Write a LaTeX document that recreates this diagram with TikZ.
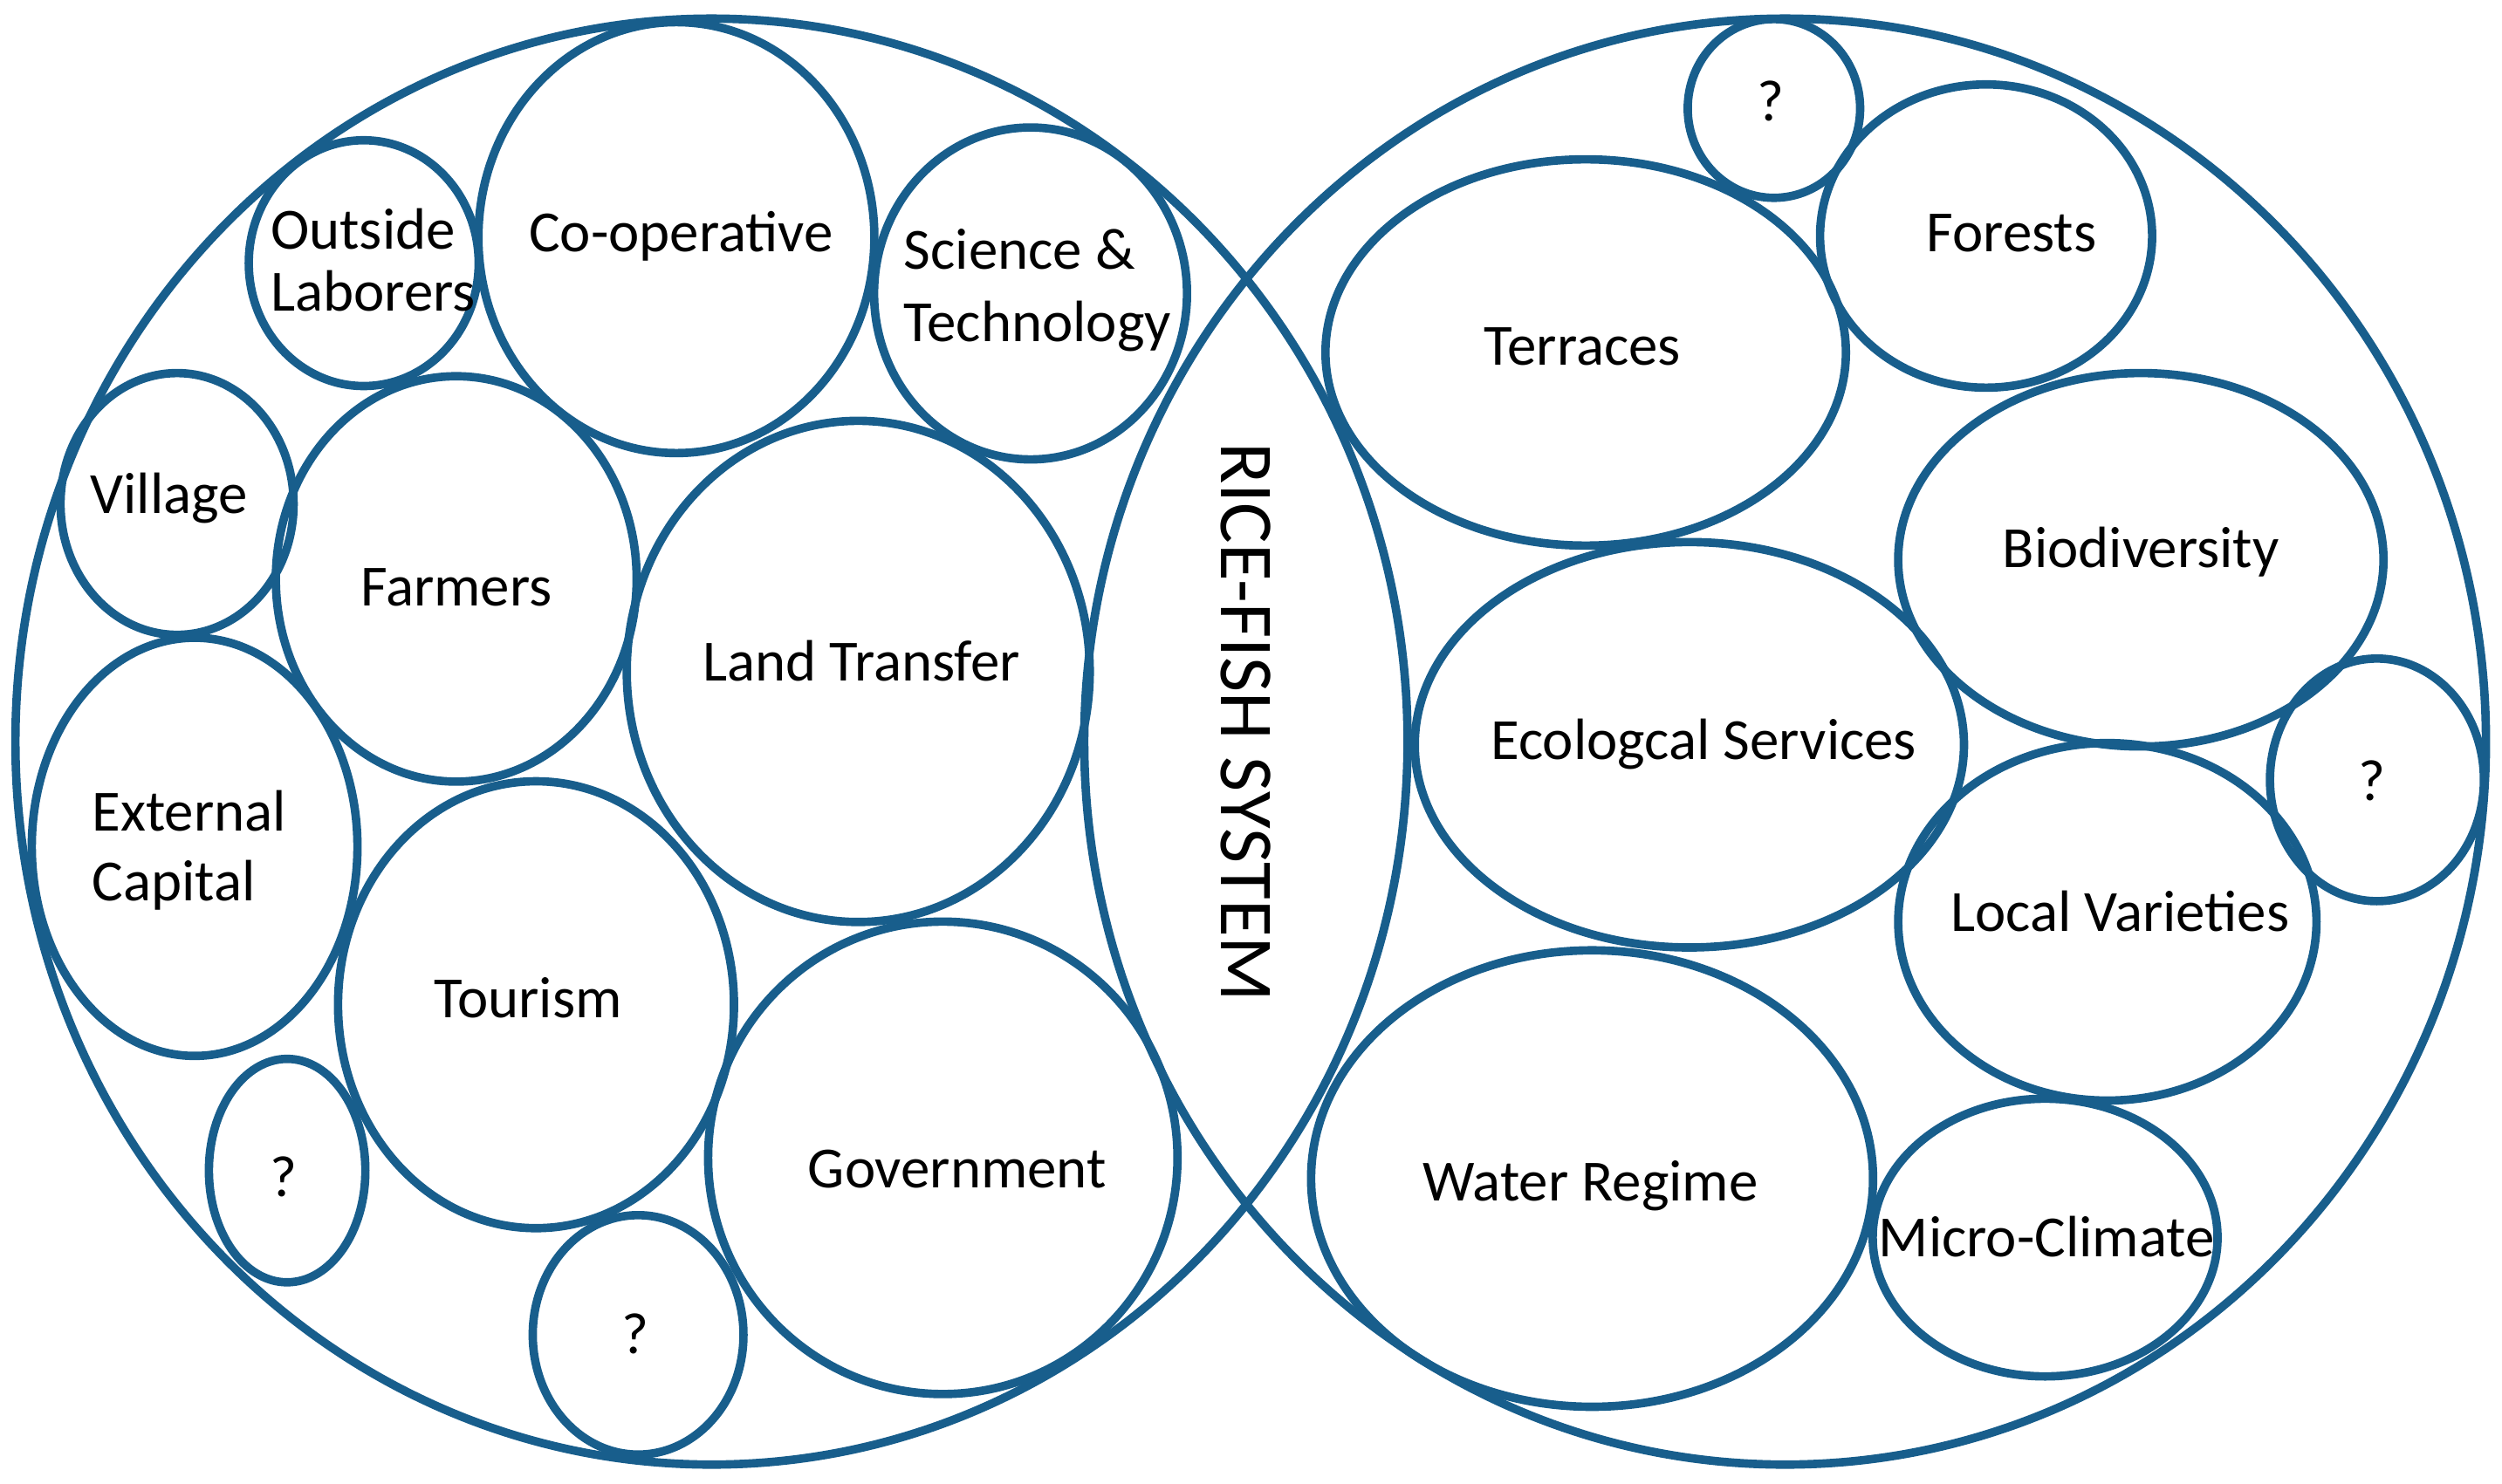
\documentclass[tikz,border=0pt]{standalone}
\usepackage{fontspec}
\setmainfont{Carlito}
\usetikzlibrary{shapes.geometric}
\definecolor{riceblue}{RGB}{24,94,140}

\begin{document}
\begin{tikzpicture}[
		x=0.01cm, y=-0.01cm,
		bub/.style 2 args={ellipse, draw=riceblue, line width=1.5pt, inner sep=0pt,
			minimum width=#1*0.02cm, minimum height=#2*0.02cm},
		lbl/.style={anchor=base, inner sep=0pt, font=\fontsize{10.4}{12.5}\selectfont},
		lblw/.style={lbl, anchor=base west}
		]
		\useasboundingbox (0,0) rectangle (1568.4,930);
		% the two big circles
		\node[bub={436}{453}] (social) at (446,465) {};
		\node[bub={439}{453}] (natural) at (1119,465) {};
		\node[rotate=-90, inner sep=0pt, font=\fontsize{13.6}{16}\selectfont] (rice) at (781,453) {RICE-FISH SYSTEM};
		% social side
		\node[bub={72}{77}] (outside) at (228,165) {};
		\node[lblw] (outsidet) at (169,156) {Outside};
		\node[lblw] (outsideb) at (169,195) {Laborers};
		\node[bub={124}{135}] (coop) at (424,149) {};
		\node[lbl] (coopt) at (427,158) {Co-operative};
		\node[bub={98}{104}] (scitech) at (646,184) {};
		\node[lblw] (scitecht) at (566,169) {Science \&};
		\node[lblw] (scitechb) at (566,214) {Technology};
		\node[bub={73}{82}] (village) at (111,316) {};
		\node[lbl] (villaget) at (106,322) {Village};
		\node[bub={113}{127}] (farmers) at (286,363) {};
		\node[lbl] (farmerst) at (286,380) {Farmers};
		\node[bub={145}{157}] (land) at (538,421) {};
		\node[lbl] (landt) at (540,427) {Land Transfer};
		\node[bub={102}{131}] (capital) at (122,531) {};
		\node[lblw] (capitalt) at (57,521) {External};
		\node[lblw] (capitalb) at (57,565) {Capital};
		\node[bub={124}{140}] (tourism) at (336,630) {};
		\node[lbl] (tourismt) at (331,638) {Tourism};
		\node[bub={49}{70}] (qa) at (180,734) {};
		\node[lbl] (qat) at (178,750) {?};
		\node[bub={147}{148}] (govt) at (591,726) {};
		\node[lbl] (govtt) at (600,745) {Government};
		\node[bub={66}{75}] (qb) at (400,837) {};
		\node[lbl] (qbt) at (398,849) {?};
		% natural side
		\node[bub={54}{56}] (qc) at (1112,68) {};
		\node[lbl] (qct) at (1110,76) {?};
		\node[bub={104}{95}] (forests) at (1245,148) {};
		\node[lbl] (forestst) at (1261,158) {Forests};
		\node[bub={163}{121}] (terraces) at (994,221) {};
		\node[lbl] (terracest) at (992,229) {Terraces};
		\node[bub={152}{117}] (biodiv) at (1342,351) {};
		\node[lbl] (biodivt) at (1342,356) {Biodiversity};
		\node[bub={172}{127}] (ecoserv) at (1059,467) {};
		\node[lbl] (ecoservt) at (1068,476) {Ecologcal Services};
		\node[bub={67}{76}] (qd) at (1490,489) {};
		\node[lbl] (qdt) at (1487,502) {?};
		\node[bub={131}{112}] (local) at (1321,578) {};
		\node[lbl] (localt) at (1329,584) {Local Varieties};
		\node[bub={176}{143}] (water) at (998,739) {};
		\node[lbl] (watert) at (997,753) {Water Regime};
		\node[bub={108}{87}] (micro) at (1282,776) {};
		\node[lbl] (microt) at (1283,788) {Micro-Climate};
\end{tikzpicture}
\end{document}
